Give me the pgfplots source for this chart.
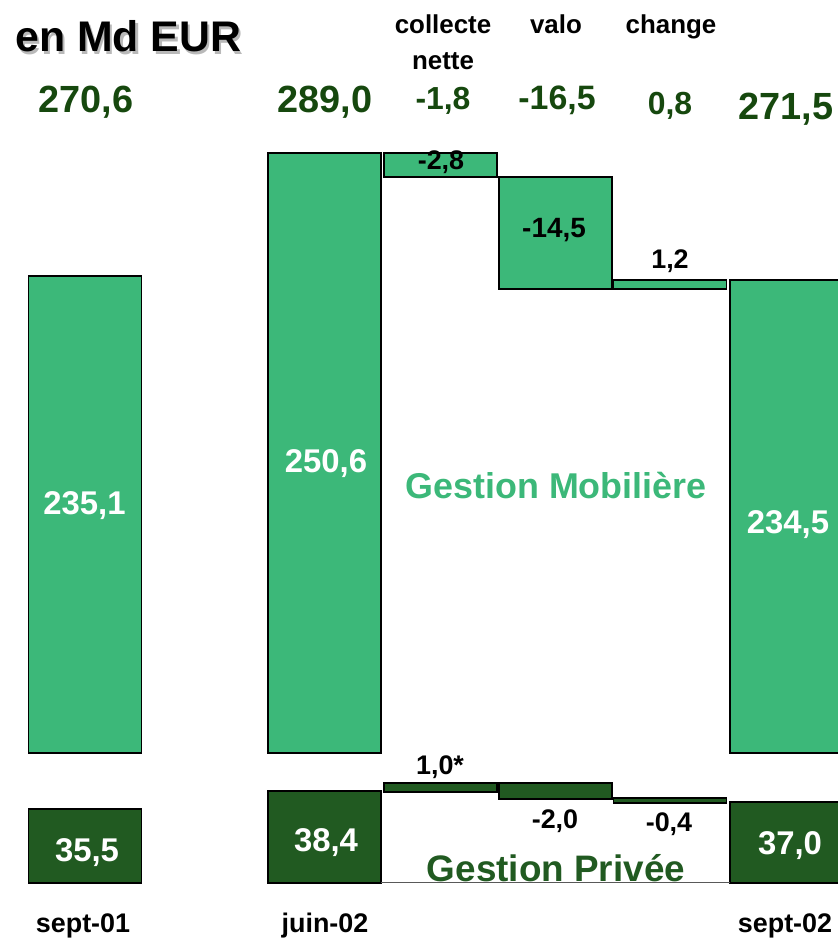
\documentclass[border=0pt]{standalone}
\usepackage{pgfplots}
\pgfplotsset{compat=1.18}
\usepackage{pgfplotstable}
\usepackage{fontspec}
\setmainfont{Liberation Sans}
\definecolor{mob}{RGB}{60,184,121}
\definecolor{priv}{RGB}{33,90,33}
\definecolor{tot}{RGB}{22,72,14}
\newcommand\fs[1]{\fontsize{#1}{#1}\selectfont\bfseries}
% drawn positions (schematic waterfall, picture units)
% x: centre; pb: base of Gestion Privee bar; ph: its height;
% gap: space up to Gestion Mobiliere bar; mh: its height
\pgfplotstableread{
x      pb   ph  gap  mh
85     58   74  56   477
324.5  58   92  38   600
440.5  149  9   606  24
555.5  142  16  494  112
670    138  5   509  9
786.5  58   81  49   473
}\wf
\begin{document}
\begin{tikzpicture}[x=1bp, y=1bp, every node/.style={inner sep=0pt}]
\path[use as bounding box] (0,0) rectangle (838,941);
\begin{axis}[
  x=1bp, y=1bp, xmin=0, xmax=838, ymin=0, ymax=941,
  anchor=origin, at={(0,0)},
  hide axis, clip=false,
  ybar stacked, bar width=113,
]
\addplot[draw=none, fill=none] table[x=x, y=pb] {\wf};
\addplot[draw=black, line width=1.2bp, fill=priv] table[x=x, y=ph] {\wf};
\addplot[draw=none, fill=none] table[x=x, y=gap] {\wf};
\addplot[draw=black, line width=1.2bp, fill=mob] table[x=x, y=mh] {\wf};
\end{axis}
\draw[gray!70!black, line width=1bp] (381,58) -- (730,58);
% title with shadow
\node[anchor=base west] at (15,{941-52}) {\fs{43}\rlap{\hspace{2.5bp}\raisebox{-2.5bp}{\color{gray!55}en Md EUR}}en Md EUR};
% headers
\node[anchor=base] at (443,{941-34}) {\fs{26}collecte};
\node[anchor=base] at (443,{941-70}) {\fs{26}nette};
\node[anchor=base] at (556,{941-34}) {\fs{26}valo};
\node[anchor=base] at (671,{941-34}) {\fs{26}change};
% totals
\node[anchor=base, text=tot] at (86,{941-113}) {\fs{38}270,6};
\node[anchor=base, text=tot] at (325,{941-113}) {\fs{38}289,0};
\node[anchor=base, text=tot] at (443,{941-110}) {\fs{32}-1,8};
\node[anchor=base, text=tot] at (557,{941-110}) {\fs{34}-16,5};
\node[anchor=base, text=tot] at (670,{941-115}) {\fs{32}0,8};
\node[anchor=base, text=tot] at (786,{941-120}) {\fs{38}271,5};
% Mobiliere labels
\node[anchor=base, text=white] at (84.5,{941-515}) {\fs{33}235,1};
\node[anchor=base, text=white] at (326,{941-473}) {\fs{33}250,6};
\node[anchor=base, text=white] at (788,{941-534}) {\fs{33}234,5};
\node[anchor=base] at (441,{941-170}) {\fs{27}-2,8};
\node[anchor=base] at (554,{941-238}) {\fs{28}-14,5};
\node[anchor=base] at (670,{941-269}) {\fs{27}1,2};
\node[anchor=base, text=mob] at (556,{941-499}) {\fs{36}Gestion Mobilière};
% Privee labels
\node[anchor=base] at (440,{941-775}) {\fs{27}1,0*};
\node[anchor=base] at (555,{941-829}) {\fs{27}-2,0};
\node[anchor=base] at (669,{941-832}) {\fs{27}-0,4};
\node[anchor=base, text=white] at (87,{941-862}) {\fs{33}35,5};
\node[anchor=base, text=white] at (326,{941-852}) {\fs{33}38,4};
\node[anchor=base, text=white] at (790,{941-855}) {\fs{33}37,0};
\node[anchor=base, text=priv] at (556,{941-882}) {\fs{37}Gestion Privée};
% categories
\node[anchor=base] at (83,{941-933}) {\fs{27}sept-01};
\node[anchor=base] at (325,{941-933}) {\fs{27}juin-02};
\node[anchor=base] at (785,{941-933}) {\fs{27}sept-02};
\end{tikzpicture}
\end{document}
